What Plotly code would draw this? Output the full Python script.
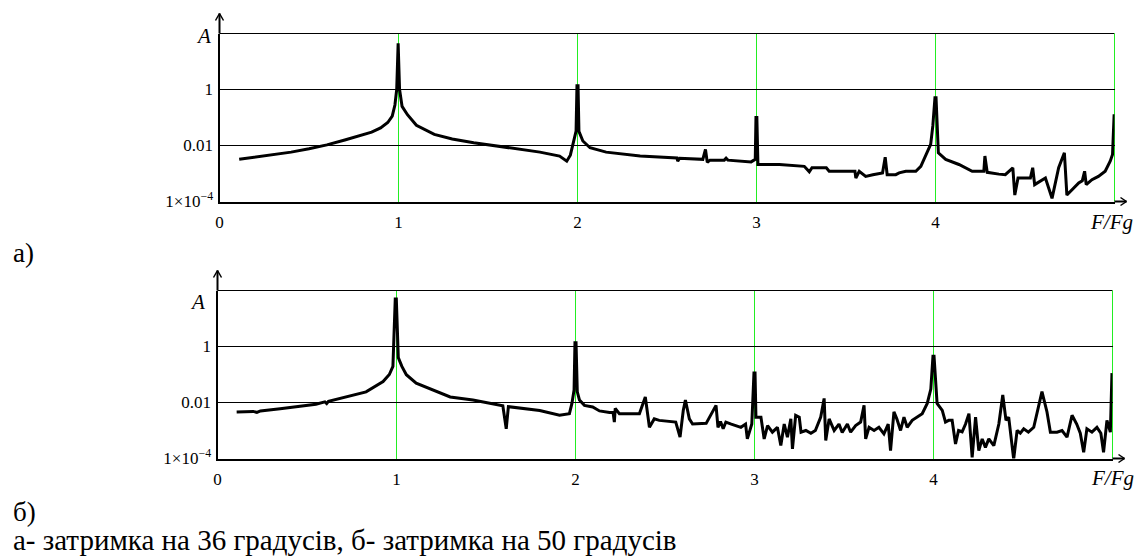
import plotly.graph_objects as go

# ---------------- data ----------------
freq_a = [0.11, 0.2, 0.3, 0.4, 0.5, 0.6, 0.7, 0.78, 0.85, 0.9, 0.94, 0.965, 0.98, 0.99, 0.994, 0.998,
          1.006, 1.02, 1.05, 1.1, 1.2, 1.3, 1.42, 1.6, 1.79, 1.9, 1.94, 1.96, 1.98, 1.992, 1.997, 2.003,
          2.008, 2.03, 2.07, 2.16, 2.35, 2.53, 2.555, 2.56, 2.57, 2.7, 2.715, 2.725, 2.74, 2.82, 2.83, 2.84,
          2.97, 2.993, 2.997, 3.002, 3.008, 3.128, 3.267, 3.295, 3.31, 3.39, 3.406, 3.55, 3.555,
          3.574, 3.61, 3.65, 3.704, 3.719, 3.73, 3.778, 3.797, 3.834, 3.89, 3.918, 3.954, 3.973, 3.985,
          3.997, 4.003, 4.01, 4.016, 4.057, 4.131, 4.205, 4.27, 4.276, 4.289, 4.354, 4.39, 4.432, 4.443,
          4.461, 4.53, 4.543, 4.554, 4.614, 4.651, 4.688, 4.72, 4.734, 4.762, 4.80, 4.82, 4.833, 4.842,
          4.874, 4.91, 4.948, 4.976, 4.989, 4.998]
amp_a = [0.0032, 0.0038, 0.0047, 0.0058, 0.0076, 0.0105, 0.0158, 0.0219, 0.030, 0.0427, 0.066, 0.112, 0.28, 1.0, 44.7, 44.7,
         1.0, 0.25, 0.126, 0.0525, 0.025, 0.017, 0.0126, 0.0089, 0.0058, 0.0042, 0.00275, 0.0045, 0.0145, 0.033, 1.35, 1.35,
         0.032, 0.0145, 0.0083, 0.0058, 0.0042, 0.0036, 0.0036, 0.00275, 0.0035, 0.0032, 0.0072, 0.0025, 0.003, 0.003, 0.0035, 0.003,
         0.0026, 0.0032, 0.1, 0.1, 0.0021, 0.0021, 0.0018, 0.00115, 0.0016, 0.0016, 0.0012, 0.0012, 0.00069,
         0.0012, 0.00079, 0.0009, 0.00105, 0.0038, 0.00091, 0.00091, 0.00105, 0.0012, 0.0012, 0.0018, 0.0055, 0.011, 0.05,
         0.51, 0.51, 0.03, 0.0055, 0.0032, 0.0021, 0.0012, 0.0012, 0.0042, 0.0011, 0.00095, 0.00091, 0.0016, 0.00017,
         0.00069, 0.00069, 0.0016, 0.0004, 0.00069, 0.00013, 0.0016, 0.0055, 0.00017, 0.00026, 0.00046, 0.00055, 0.0012, 0.0004,
         0.0006, 0.00079, 0.0012, 0.00275, 0.0048, 0.13]

freq_b = [0.107, 0.2, 0.22, 0.24, 0.35, 0.55, 0.6, 0.61, 0.62, 0.7, 0.83, 0.925, 0.96, 0.98, 0.993, 0.999,
          1.01, 1.03, 1.055, 1.11, 1.3, 1.427, 1.594, 1.613, 1.625, 1.8,
          1.911, 1.966, 1.98, 1.992, 1.997, 2.003, 2.01, 2.022, 2.05, 2.096, 2.134, 2.19, 2.21, 2.217, 2.222, 2.245,
          2.357, 2.39, 2.413, 2.44, 2.468, 2.56, 2.584, 2.602, 2.614, 2.636, 2.654, 2.73, 2.785, 2.796, 2.81, 2.825,
          2.84, 2.87, 2.924, 2.95, 2.96, 2.985, 2.993, 2.997, 3.003, 3.008, 3.036, 3.054, 3.073, 3.10, 3.128, 3.147,
          3.166, 3.184, 3.203, 3.212, 3.23, 3.25, 3.26, 3.287, 3.315, 3.34, 3.37, 3.389, 3.398, 3.417, 3.445, 3.472,
          3.49, 3.519, 3.537, 3.565, 3.593, 3.612, 3.621, 3.64, 3.668, 3.695, 3.723, 3.747, 3.76, 3.779, 3.795, 3.816,
          3.835, 3.853, 3.881, 3.909, 3.937, 3.965, 3.985, 3.997, 4.003, 4.02, 4.049, 4.067, 4.085, 4.104, 4.123, 4.14,
          4.16, 4.179, 4.198, 4.216, 4.235, 4.253, 4.272, 4.29, 4.309, 4.337, 4.365, 4.387, 4.405, 4.42, 4.448, 4.467,
          4.485, 4.504, 4.53, 4.56, 4.578, 4.606, 4.634, 4.653, 4.69, 4.718, 4.746, 4.774, 4.80, 4.82, 4.839, 4.857,
          4.885, 4.913, 4.935, 4.95, 4.969, 4.988, 4.997]
amp_b = [0.0046, 0.0048, 0.0044, 0.005, 0.006, 0.0087, 0.0105, 0.0092, 0.011, 0.015, 0.024, 0.056, 0.1, 0.195, 50, 50,
         0.4, 0.195, 0.098, 0.049, 0.0158, 0.0123, 0.0076, 0.00115, 0.0071, 0.0052,
         0.0035, 0.004, 0.0093, 0.028, 1.35, 1.35, 0.024, 0.0123, 0.0079, 0.0069, 0.005, 0.0044, 0.0044, 0.002, 0.0062, 0.004,
         0.004, 0.0158, 0.0013, 0.0026, 0.0023, 0.002, 0.00058, 0.0052, 0.0123, 0.0026, 0.0017, 0.0018, 0.0079, 0.0013, 0.0021, 0.00115,
         0.002, 0.0017, 0.0013, 0.0017, 0.0005, 0.0017, 0.02, 0.112, 0.112, 0.003, 0.003, 0.0005, 0.0015, 0.00087, 0.0013, 0.00029,
         0.0017, 0.00058, 0.0026, 0.00022, 0.0035, 0.003, 0.00087, 0.001, 0.00079, 0.001, 0.003, 0.014, 0.00044, 0.0026, 0.001, 0.0017,
         0.00085, 0.0017, 0.00087, 0.0015, 0.002, 0.0079, 0.0005, 0.0013, 0.001, 0.0013, 0.00076, 0.0017, 0.00019, 0.0046, 0.0026, 0.001,
         0.003, 0.0013, 0.0023, 0.003, 0.004, 0.0093, 0.03, 0.45, 0.45, 0.0093, 0.0052, 0.002, 0.0023, 0.0023, 0.00033, 0.001,
         0.0009, 0.0017, 0.004, 0.00011, 0.003, 0.00019, 0.0005, 0.00025, 0.0005, 0.00029, 0.0017, 0.0186, 0.0023, 0.003, 0.000095, 0.001,
         0.0008, 0.00115, 0.00087, 0.0013, 0.004, 0.0245, 0.0046, 0.00087, 0.00087, 0.001, 0.00058, 0.0035, 0.0017, 0.0008, 0.000166, 0.00115,
         0.00087, 0.0013, 0.0008, 0.000166, 0.0023, 0.00087, 0.112]

x_ticks = [0, 1, 2, 3, 4]
x_labels = ["0", "1", "2", "3", "4"]
y_ticks = [1e-4, 1e-2, 1]
y_labels = ["1×10<sup>−4</sup>", "0.01", "1"]

W, H = 1139, 556
SERIF = "Liberation Serif, Tinos, Times New Roman, DejaVu Serif, serif"
GREEN = "#22ee22"

def px_x(p):
    return p / W

def px_y(p):
    return 1 - p / H

fig = go.Figure()
fig.add_trace(go.Scatter(x=freq_a, y=amp_a, mode="lines", line=dict(color="black", width=3),
                         xaxis="x", yaxis="y", showlegend=False, hoverinfo="skip"))
fig.add_trace(go.Scatter(x=freq_b, y=amp_b, mode="lines", line=dict(color="black", width=3),
                         xaxis="x2", yaxis="y2", showlegend=False, hoverinfo="skip"))

tickfont = dict(family=SERIF, size=17, color="black")

def xaxis(domain, anchor):
    return dict(domain=domain, anchor=anchor, range=[0, 5], tickmode="array", tickvals=x_ticks,
                ticktext=x_labels, showgrid=True, gridcolor=GREEN, gridwidth=1, showline=True,
                linecolor="black", linewidth=2, ticks="", zeroline=False, tickfont=tickfont,
                ticklabelstandoff=4, fixedrange=True)

def yaxis(domain, anchor):
    return dict(domain=domain, anchor=anchor, type="log", range=[-4, 2], tickmode="array",
                tickvals=y_ticks, ticktext=y_labels, showgrid=True, gridcolor="black", gridwidth=1,
                showline=True, linecolor="black", linewidth=2, ticks="", zeroline=False,
                tickfont=tickfont, ticklabelstandoff=1, fixedrange=True)

top_x = [px_x(219.5), px_x(219.5 + 5 * 179)]
top_y = [px_y(201.5), px_y(33.5)]
bot_x = [px_x(217.5), px_x(217.5 + 5 * 179)]
bot_y = [px_y(458.5), px_y(290.5)]

fig.update_layout(
    template="none",
    width=W, height=H,
    margin=dict(l=0, r=0, t=0, b=0),
    paper_bgcolor="white", plot_bgcolor="white",
    font=dict(family=SERIF, color="black"),
    xaxis=xaxis(top_x, "y"), yaxis=yaxis(top_y, "x"),
    xaxis2=xaxis(bot_x, "y2"), yaxis2=yaxis(bot_y, "x2"),
    showlegend=False,
)

shapes = []
for xr, yr in (("x", "y"), ("x2", "y2")):
    xd, yd = xr + " domain", yr + " domain"
    # edge grid lines (A = 100 and F/Fg = 5)
    shapes.append(dict(type="line", xref=xd, yref=yd, x0=0, x1=1, y0=1, y1=1,
                       line=dict(color="black", width=1), layer="below"))
    shapes.append(dict(type="line", xref=xd, yref=yd, x0=1, x1=1, y0=0, y1=1,
                       line=dict(color=GREEN, width=1), layer="below"))
    # vertical axis arrow
    shapes.append(dict(type="line", xref=xd, yref=yd, xsizemode="pixel", ysizemode="pixel",
                       xanchor=0, yanchor=1, x0=0, x1=0, y0=0, y1=20,
                       line=dict(color="black", width=2)))
    for dx in (-4, 4):
        shapes.append(dict(type="line", xref=xd, yref=yd, xsizemode="pixel", ysizemode="pixel",
                           xanchor=0, yanchor=1, x0=dx, x1=0, y0=13, y1=20,
                           line=dict(color="black", width=1.5)))
    # horizontal axis arrow
    shapes.append(dict(type="line", xref=xd, yref=yd, xsizemode="pixel", ysizemode="pixel",
                       xanchor=1, yanchor=0, x0=0, x1=12, y0=0, y1=0,
                       line=dict(color="black", width=2)))
    for dy in (-4, 4):
        shapes.append(dict(type="line", xref=xd, yref=yd, xsizemode="pixel", ysizemode="pixel",
                           xanchor=1, yanchor=0, x0=6, x1=12, y0=dy, y1=0,
                           line=dict(color="black", width=1.5)))
fig.update_layout(shapes=shapes)

annotations = [
    dict(text="<i>A</i>", x=px_x(213), y=px_y(36), xanchor="right", yanchor="middle", size=21),
    dict(text="<i>A</i>", x=px_x(207), y=px_y(302), xanchor="right", yanchor="middle", size=21),
    dict(text="<i>F/Fg</i>", x=px_x(1111), y=px_y(222), xanchor="center", yanchor="middle", size=21),
    dict(text="<i>F/Fg</i>", x=px_x(1112), y=px_y(478), xanchor="center", yanchor="middle", size=21),
    dict(text="а)", x=px_x(11), y=px_y(253), xanchor="left", yanchor="middle", size=27),
    dict(text="б)", x=px_x(11), y=px_y(512), xanchor="left", yanchor="middle", size=27),
    dict(text="а- затримка на 36 градусів, б- затримка на 50 градусів", x=px_x(11), y=px_y(540),
         xanchor="left", yanchor="middle", size=29),
]
for a in annotations:
    sz = a.pop("size")
    a.update(xref="paper", yref="paper", showarrow=False,
             font=dict(family=SERIF, size=sz, color="black"))
fig.update_layout(annotations=annotations)

fig.write_html("out.html", config={"displayModeBar": False},
               post_script="document.body.style.margin='0';document.body.style.overflow='hidden';")
